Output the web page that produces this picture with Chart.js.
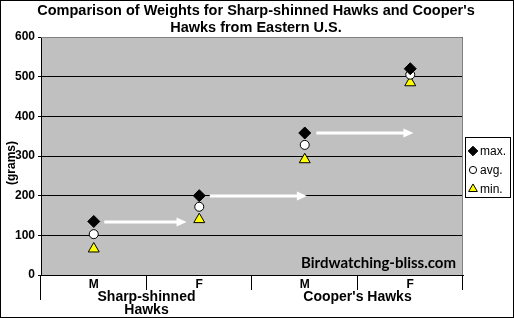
<!DOCTYPE html>
<html>
<head>
<meta charset="utf-8">
<script src="https://cdn.jsdelivr.net/npm/chart.js@4.4.1/dist/chart.umd.min.js"></script>
<style>
body{margin:0;background:#fff;}
</style>
</head>
<body>
<canvas id="hawkChart" width="514" height="318"></canvas>
<script>
// values (grams)
var sexes = ['M', 'F', 'M', 'F'];
var species = [['Sharp-shinned', 'Hawks'], ["Cooper's Hawks"]];
var maxWeights = [135, 200, 358, 520];
var avgWeights = [103, 172, 328, 505];
var minWeights = [66, 140, 291, 485];
var yTicks = [0, 100, 200, 300, 400, 500, 600];
// white arrows: category index from/to and weight level
var arrowFrom = [0.1, 1.1, 2.11];
var arrowTo = [0.88, 2.02, 3.03];
var arrowLevel = [134, 200, 358];
var titleLines = ["Comparison of Weights for Sharp-shinned Hawks and Cooper's", 'Hawks from Eastern U.S.'];

var FONT = '"Liberation Sans", Arial, sans-serif';

//grey plot area + outer frame
var backdrop = {
	id: 'backdrop',
	beforeDraw: function(chart){
		var ctx = chart.ctx, a = chart.chartArea;
		ctx.save();
		ctx.fillStyle = '#fff';
		ctx.fillRect(0, 0, chart.width, chart.height);
		ctx.fillStyle = '#c0c0c0';
		ctx.fillRect(a.left, a.top, a.right - a.left, a.bottom - a.top);
		ctx.restore();
	},
	afterDraw: function(chart){
		var ctx = chart.ctx, a = chart.chartArea;
		ctx.save();
		ctx.strokeStyle = '#808080';
		ctx.lineWidth = 1;
		ctx.beginPath();
		ctx.moveTo(a.left, a.top + 0.5);
		ctx.lineTo(a.right - 0.5, a.top + 0.5);
		ctx.lineTo(a.right - 0.5, a.bottom);
		ctx.stroke();
		ctx.strokeStyle = '#000';
		ctx.strokeRect(0.5, 0.5, chart.width - 1, chart.height - 1);
		ctx.restore();
	}
};

//arrows between the groups
var arrows = {
	id: 'arrows',
	beforeDatasetsDraw: function(chart){
		var ctx = chart.ctx, x = chart.scales.x, y = chart.scales.y;
		ctx.save();
		ctx.strokeStyle = '#fff';
		ctx.fillStyle = '#fff';
		ctx.lineWidth = 3;
		for(var i=0; i<arrowFrom.length; i++){
			var x1 = x.getPixelForValue(arrowFrom[i]);
			var x2 = x.getPixelForValue(arrowTo[i]);
			var py = Math.round(y.getPixelForValue(arrowLevel[i]));
			ctx.beginPath();
			ctx.moveTo(x1, py);
			ctx.lineTo(x2 - 8, py);
			ctx.stroke();
			ctx.beginPath();
			ctx.moveTo(x2, py);
			ctx.lineTo(x2 - 10, py - 4.5);
			ctx.lineTo(x2 - 10, py + 4.5);
			ctx.closePath();
			ctx.fill();
		}
		ctx.restore();
	}
};

//title, dividers, species names, y title, legend box, watermark
var extras = {
	id: 'extras',
	afterDraw: function(chart){
		var ctx = chart.ctx, x = chart.scales.x, a = chart.chartArea;
		ctx.save();
		ctx.fillStyle = '#000';
		ctx.textAlign = 'center';
		ctx.textBaseline = 'middle';
		ctx.font = 'bold 14.5px ' + FONT;
		for(var t=0; t<titleLines.length; t++){
			ctx.fillText(titleLines[t], 256, 11 + t * 17);
		}

		ctx.strokeStyle = '#000';
		ctx.lineWidth = 1;
		ctx.beginPath();
		for(var i=0; i<=sexes.length; i++){
			var px = Math.round(x.getPixelForValue(i - 0.5)) - 0.5;
			ctx.moveTo(px, a.bottom);
			ctx.lineTo(px, i == 0 ? 300 : 290);
		}
		ctx.stroke();

		ctx.font = 'bold 14px ' + FONT;
		for(var g=0; g<species.length; g++){
			var cx = x.getPixelForValue(g * 2 + 0.5);
			for(var l=0; l<species[g].length; l++){
				ctx.fillText(species[g][l], cx, 297 + l * 13);
			}
		}

		ctx.save();
		ctx.translate(12, 163);
		ctx.rotate(-Math.PI / 2);
		ctx.font = 'bold 12px ' + FONT;
		ctx.fillText('(grams)', 0, 0);
		ctx.restore();

		ctx.font = 'bold 15px Lato, "Open Sans", sans-serif';
		ctx.textAlign = 'right';
		ctx.fillText('Birdwatching-bliss.com', 456, 263);

		// legend
		ctx.fillStyle = '#fff';
		ctx.fillRect(465, 137, 45, 60);
		ctx.strokeRect(465.5, 137.5, 45, 60);
		ctx.textAlign = 'left';
		ctx.font = '12px ' + FONT;
		var sets = chart.data.datasets;
		for(var k=0; k<sets.length; k++){
			var ly = 151 + k * 19;
			ctx.fillStyle = sets[k].pointBackgroundColor;
			ctx.strokeStyle = '#000';
			ctx.lineWidth = 1;
			Chart.helpers.drawPoint(ctx, {pointStyle: sets[k].pointStyle, radius: sets[k].pointRadius * 0.8, rotation: 0, borderWidth: 1}, 473, ly);
			ctx.fillStyle = '#000';
			ctx.fillText(sets[k].label, 480, ly + 1);
		}
		ctx.restore();
	}
};

const data = {
	labels: sexes,
	datasets: [{
		label: 'max.',
		data: maxWeights,
		pointStyle: 'rectRot',
		pointRadius: 6,
		pointBackgroundColor: '#000',
		pointBorderColor: '#000',
		pointBorderWidth: 1
	}, {
		label: 'avg.',
		data: avgWeights,
		pointStyle: 'circle',
		pointRadius: 4.5,
		pointBackgroundColor: '#fff',
		pointBorderColor: '#000',
		pointBorderWidth: 1
	}, {
		label: 'min.',
		data: minWeights,
		pointStyle: 'triangle',
		pointRadius: 6.3,
		pointBackgroundColor: '#ffff00',
		pointBorderColor: '#000',
		pointBorderWidth: 1
	}]
};

const config = {
	type: 'line',
	data: data,
	plugins: [backdrop, arrows, extras],
	options: {
		responsive: false,
		animation: false,
		showLine: false,
		layout: {padding: {left: 0, right: 51, top: 37, bottom: 0}},
		plugins: {
			legend: {display: false},
			tooltip: {enabled: false},
			title: {display: false}
		},
		scales: {
			x: {
				offset: true,
				grid: {display: false, drawTicks: false},
				border: {color: '#000', width: 1},
				ticks: {color: '#000', padding: 2, font: {family: FONT, size: 12, weight: 'bold'}},
				afterFit: function(s){ s.height = 43; }
			},
			y: {
				min: 0,
				max: 600,
				afterBuildTicks: function(s){ s.ticks = yTicks.map(function(v){ return {value: v}; }); },
				grid: {color: '#000', tickLength: 3, tickColor: '#000'},
				border: {color: '#000', width: 1},
				ticks: {color: '#000', padding: 3, font: {family: FONT, size: 12, weight: 'bold'}},
				afterFit: function(s){ s.width = 41; }
			}
		}
	}
};

const myChart = new Chart(document.getElementById('hawkChart'), config);
</script>
</body>
</html>
